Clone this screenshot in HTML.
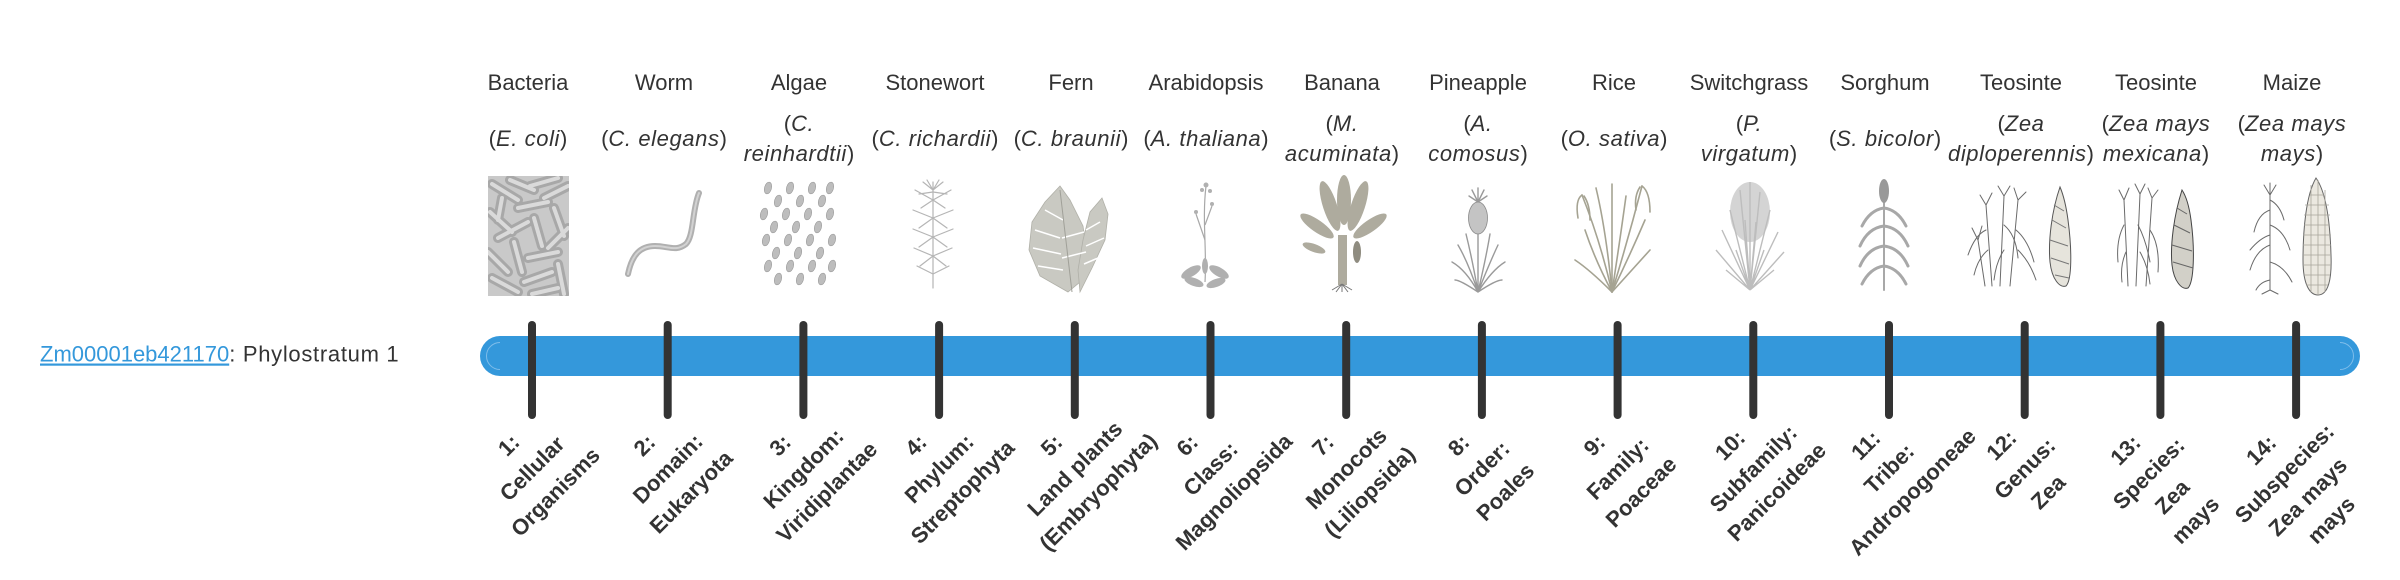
<!DOCTYPE html>
<html><head><meta charset="utf-8">
<style>
html,body{margin:0;padding:0;background:#fff;}
body{width:2400px;height:580px;overflow:hidden;}
svg{display:block;}
.h{font-family:"Liberation Sans",sans-serif;font-size:22px;fill:#333;text-anchor:middle;}
.s{font-family:"Liberation Sans",sans-serif;font-size:22px;fill:#333;text-anchor:middle;}
.i{font-style:italic;letter-spacing:0.6px;}
.l{font-family:"Liberation Sans",sans-serif;font-size:22px;font-weight:bold;fill:#333;text-anchor:middle;}
</style></head>
<body>
<svg width="2400" height="580" viewBox="0 0 2400 580" xmlns="http://www.w3.org/2000/svg">
<rect width="2400" height="580" fill="#fff"/>

<!-- left label -->
<text x="40" y="361.5" font-family="Liberation Sans, sans-serif" font-size="22" fill="#333"><tspan fill="#3498db" text-decoration="underline" style="text-decoration:underline">Zm00001eb421170</tspan><tspan letter-spacing="0.7">: Phylostratum 1</tspan></text>

<!-- common names -->
<g class="h">
<text x="528" y="90">Bacteria</text>
<text x="664" y="90">Worm</text>
<text x="799" y="90">Algae</text>
<text x="935" y="90">Stonewort</text>
<text x="1071" y="90">Fern</text>
<text x="1206" y="90">Arabidopsis</text>
<text x="1342" y="90">Banana</text>
<text x="1478" y="90">Pineapple</text>
<text x="1614" y="90">Rice</text>
<text x="1749" y="90">Switchgrass</text>
<text x="1885" y="90">Sorghum</text>
<text x="2021" y="90">Teosinte</text>
<text x="2156" y="90">Teosinte</text>
<text x="2292" y="90">Maize</text>
</g>

<!-- scientific names -->
<g class="s">
<text x="528" y="146">(<tspan class="i">E. coli</tspan>)</text>
<text x="664" y="146">(<tspan class="i">C. elegans</tspan>)</text>
<text x="799" y="131">(<tspan class="i">C.</tspan></text>
<text x="799" y="161"><tspan class="i">reinhardtii</tspan>)</text>
<text x="935" y="146">(<tspan class="i">C. richardii</tspan>)</text>
<text x="1071" y="146">(<tspan class="i">C. braunii</tspan>)</text>
<text x="1206" y="146">(<tspan class="i">A. thaliana</tspan>)</text>
<text x="1342" y="131">(<tspan class="i">M.</tspan></text>
<text x="1342" y="161"><tspan class="i">acuminata</tspan>)</text>
<text x="1478" y="131">(<tspan class="i">A.</tspan></text>
<text x="1478" y="161"><tspan class="i">comosus</tspan>)</text>
<text x="1614" y="146">(<tspan class="i">O. sativa</tspan>)</text>
<text x="1749" y="131">(<tspan class="i">P.</tspan></text>
<text x="1749" y="161"><tspan class="i">virgatum</tspan>)</text>
<text x="1885" y="146">(<tspan class="i">S. bicolor</tspan>)</text>
<text x="2021" y="131">(<tspan class="i">Zea</tspan></text>
<text x="2021" y="161"><tspan class="i">diploperennis</tspan>)</text>
<text x="2156" y="131">(<tspan class="i">Zea mays</tspan></text>
<text x="2156" y="161"><tspan class="i">mexicana</tspan>)</text>
<text x="2292" y="131">(<tspan class="i">Zea mays</tspan></text>
<text x="2292" y="161"><tspan class="i">mays</tspan>)</text>
</g>

<!-- IMAGES -->
<!-- 1 bacteria -->
<defs><clipPath id="cb"><rect x="0" y="0" width="81" height="120"/></clipPath></defs>
<g transform="translate(488,176)" clip-path="url(#cb)" stroke-linecap="round">
<rect width="81" height="120" fill="#c9c9c9"/>
<g stroke="#a8a8a8" stroke-width="10">
<line x1="4" y1="8" x2="30" y2="24"/><line x1="22" y1="4" x2="46" y2="14"/><line x1="42" y1="10" x2="70" y2="2"/>
<line x1="56" y1="22" x2="80" y2="10"/><line x1="2" y1="36" x2="24" y2="56"/><line x1="30" y1="32" x2="60" y2="26"/>
<line x1="66" y1="32" x2="76" y2="60"/><line x1="10" y1="62" x2="40" y2="46"/><line x1="46" y1="42" x2="54" y2="70"/>
<line x1="60" y1="72" x2="80" y2="52"/><line x1="0" y1="76" x2="20" y2="96"/><line x1="26" y1="66" x2="34" y2="96"/>
<line x1="40" y1="82" x2="70" y2="76"/><line x1="4" y1="102" x2="30" y2="116"/><line x1="36" y1="106" x2="64" y2="96"/>
<line x1="70" y1="88" x2="76" y2="118"/><line x1="44" y1="118" x2="70" y2="112"/><line x1="14" y1="22" x2="10" y2="44"/>
</g>
<g stroke="#dadada" stroke-width="4">
<line x1="4" y1="8" x2="30" y2="24"/><line x1="22" y1="4" x2="46" y2="14"/><line x1="42" y1="10" x2="70" y2="2"/>
<line x1="56" y1="22" x2="80" y2="10"/><line x1="2" y1="36" x2="24" y2="56"/><line x1="30" y1="32" x2="60" y2="26"/>
<line x1="66" y1="32" x2="76" y2="60"/><line x1="10" y1="62" x2="40" y2="46"/><line x1="46" y1="42" x2="54" y2="70"/>
<line x1="60" y1="72" x2="80" y2="52"/><line x1="0" y1="76" x2="20" y2="96"/><line x1="26" y1="66" x2="34" y2="96"/>
<line x1="40" y1="82" x2="70" y2="76"/><line x1="4" y1="102" x2="30" y2="116"/><line x1="36" y1="106" x2="64" y2="96"/>
<line x1="70" y1="88" x2="76" y2="118"/><line x1="44" y1="118" x2="70" y2="112"/><line x1="14" y1="22" x2="10" y2="44"/>
</g>
</g>

<!-- 2 worm -->
<path d="M628,274 C632,255 640,246 655,246 C668,246 676,252 686,244 C694,236 692,210 699,193" fill="none" stroke="#b0b0b0" stroke-width="6" stroke-linecap="round"/>
<path d="M628,274 C632,255 640,246 655,246 C668,246 676,252 686,244 C694,236 692,210 699,193" fill="none" stroke="#d2d2d2" stroke-width="2" stroke-linecap="round"/>

<!-- 3 algae -->
<g fill="#bdbdbd" stroke="#9a9a9a" stroke-width="0.6">
<ellipse cx="768" cy="188" rx="3.5" ry="6" transform="rotate(15 768 188)"/><ellipse cx="790" cy="188" rx="3.5" ry="6" transform="rotate(15 790 188)"/><ellipse cx="812" cy="188" rx="3.5" ry="6" transform="rotate(15 812 188)"/><ellipse cx="830" cy="188" rx="3.5" ry="6" transform="rotate(15 830 188)"/>
<ellipse cx="778" cy="201" rx="3.5" ry="6" transform="rotate(15 778 201)"/><ellipse cx="800" cy="201" rx="3.5" ry="6" transform="rotate(15 800 201)"/><ellipse cx="822" cy="201" rx="3.5" ry="6" transform="rotate(15 822 201)"/>
<ellipse cx="764" cy="214" rx="3.5" ry="6" transform="rotate(15 764 214)"/><ellipse cx="786" cy="214" rx="3.5" ry="6" transform="rotate(15 786 214)"/><ellipse cx="808" cy="214" rx="3.5" ry="6" transform="rotate(15 808 214)"/><ellipse cx="830" cy="214" rx="3.5" ry="6" transform="rotate(15 830 214)"/>
<ellipse cx="774" cy="227" rx="3.5" ry="6" transform="rotate(15 774 227)"/><ellipse cx="796" cy="227" rx="3.5" ry="6" transform="rotate(15 796 227)"/><ellipse cx="818" cy="227" rx="3.5" ry="6" transform="rotate(15 818 227)"/>
<ellipse cx="766" cy="240" rx="3.5" ry="6" transform="rotate(15 766 240)"/><ellipse cx="788" cy="240" rx="3.5" ry="6" transform="rotate(15 788 240)"/><ellipse cx="810" cy="240" rx="3.5" ry="6" transform="rotate(15 810 240)"/><ellipse cx="832" cy="240" rx="3.5" ry="6" transform="rotate(15 832 240)"/>
<ellipse cx="776" cy="253" rx="3.5" ry="6" transform="rotate(15 776 253)"/><ellipse cx="798" cy="253" rx="3.5" ry="6" transform="rotate(15 798 253)"/><ellipse cx="820" cy="253" rx="3.5" ry="6" transform="rotate(15 820 253)"/>
<ellipse cx="768" cy="266" rx="3.5" ry="6" transform="rotate(15 768 266)"/><ellipse cx="790" cy="266" rx="3.5" ry="6" transform="rotate(15 790 266)"/><ellipse cx="812" cy="266" rx="3.5" ry="6" transform="rotate(15 812 266)"/><ellipse cx="832" cy="266" rx="3.5" ry="6" transform="rotate(15 832 266)"/>
<ellipse cx="778" cy="279" rx="3.5" ry="6" transform="rotate(15 778 279)"/><ellipse cx="800" cy="279" rx="3.5" ry="6" transform="rotate(15 800 279)"/><ellipse cx="822" cy="279" rx="3.5" ry="6" transform="rotate(15 822 279)"/>
</g>

<!-- 4 stonewort -->
<g stroke="#b5b5b5" stroke-width="1.2" fill="none" stroke-linecap="round">
<line x1="933" y1="288" x2="933" y2="182"/>
<path d="M933,200 l-18,-10 M933,200 l18,-10 M933,200 l-12,8 M933,200 l12,8"/>
<path d="M933,218 l-20,-8 M933,218 l20,-8 M933,218 l-14,10 M933,218 l14,10"/>
<path d="M933,237 l-20,-8 M933,237 l20,-8 M933,237 l-14,10 M933,237 l14,10"/>
<path d="M933,256 l-19,-8 M933,256 l19,-8 M933,256 l-13,10 M933,256 l13,10"/>
<path d="M933,274 l-16,-8 M933,274 l16,-8"/>
<path d="M933,190 l-10,-8 M933,190 l10,-8 M933,190 l-6,-10 M933,190 l6,-10 M933,192 l-14,2 M933,192 l14,2"/>
</g>

<!-- 5 fern -->
<g fill="#c9c9c2" stroke="#b0b0a8" stroke-width="0.8">
<polygon points="1068,292 1040,276 1029,250 1032,222 1045,202 1060,186 1070,200 1083,226 1087,256 1080,282"/>
<polygon points="1080,292 1092,268 1105,240 1108,214 1102,198 1090,212 1083,240 1078,270"/>
</g>
<g stroke="#fff" stroke-width="1.5">
<path d="M1035,230 l25,8 M1033,248 l28,6 M1038,266 l25,4 M1045,210 l18,10 M1084,232 l-22,6 M1086,252 l-24,6 M1100,222 l-14,8 M1104,238 l-18,8 M1098,258 l-14,6"/>
</g>
<line x1="1072" y1="292" x2="1060" y2="190" stroke="#a0a098" stroke-width="1"/>

<!-- 6 arabidopsis -->
<g stroke="#a8a8a8" stroke-width="1.2" fill="none">
<path d="M1205,282 C1207,250 1202,220 1206,186"/>
<path d="M1205,240 L1196,214"/><path d="M1205,225 L1212,206"/>
</g>
<g fill="#b0b0b0">
<circle cx="1206" cy="185" r="2.5"/><circle cx="1202" cy="190" r="2"/><circle cx="1210" cy="191" r="2"/><circle cx="1196" cy="212" r="2"/><circle cx="1212" cy="204" r="2"/>
<ellipse cx="1191" cy="272" rx="11" ry="4.5" transform="rotate(-30 1191 272)"/>
<ellipse cx="1219" cy="272" rx="11" ry="4.5" transform="rotate(30 1219 272)"/>
<ellipse cx="1194" cy="282" rx="10" ry="4" transform="rotate(20 1194 282)"/>
<ellipse cx="1216" cy="283" rx="10" ry="4" transform="rotate(-20 1216 283)"/>
<ellipse cx="1205" cy="266" rx="3" ry="8"/>
</g>

<!-- 7 banana -->
<g fill="#aeab9e">
<rect x="1338" y="235" width="9" height="50"/>
<ellipse cx="1330" cy="206" rx="7" ry="26" transform="rotate(-18 1330 206)"/>
<ellipse cx="1344" cy="200" rx="7" ry="25"/>
<ellipse cx="1358" cy="206" rx="7" ry="26" transform="rotate(18 1358 206)"/>
<ellipse cx="1317" cy="226" rx="6" ry="20" transform="rotate(-55 1317 226)"/>
<ellipse cx="1370" cy="226" rx="6" ry="20" transform="rotate(55 1370 226)"/>
<ellipse cx="1314" cy="248" rx="4" ry="12" transform="rotate(-70 1314 248)"/>
<ellipse cx="1357" cy="252" rx="4" ry="11" fill="#8f8c80"/>
</g>
<path d="M1342,284 l-10,6 M1342,284 l10,6 M1342,284 l0,8 M1342,284 l-6,8 M1342,284 l6,8" stroke="#777" stroke-width="1"/>

<!-- 8 pineapple -->
<g stroke="#9a9a9a" stroke-width="1.4" fill="none" stroke-linecap="round">
<path d="M1478,292 Q1466,270 1452,262 M1478,292 Q1468,262 1458,245 M1478,292 Q1472,258 1466,234 M1478,292 Q1486,258 1490,234 M1478,292 Q1490,262 1498,245 M1478,292 Q1492,270 1505,262 M1478,292 L1478,234 M1478,292 Q1460,280 1455,280 M1478,292 Q1496,280 1502,280"/>
<path d="M1478,202 l0,-14 M1478,202 l-6,-12 M1478,202 l6,-12 M1478,202 l-9,-6 M1478,202 l9,-6"/>
</g>
<ellipse cx="1478" cy="218" rx="9.5" ry="16" fill="#c4c4c4" stroke="#888" stroke-width="0.8"/>

<!-- 9 rice -->
<g stroke="#a5a392" stroke-width="1.6" fill="none" stroke-linecap="round">
<path d="M1612,292 Q1600,240 1582,195"/><path d="M1612,292 Q1606,230 1596,188"/><path d="M1612,292 Q1612,230 1612,184"/>
<path d="M1612,292 Q1620,240 1626,196"/><path d="M1612,292 Q1628,240 1642,186"/><path d="M1612,292 Q1632,270 1650,250"/>
<path d="M1612,292 Q1590,270 1575,260"/><path d="M1612,292 Q1595,260 1585,230"/><path d="M1612,292 Q1630,255 1645,220"/>
<path d="M1582,195 Q1575,200 1578,218 M1584,196 Q1590,205 1590,220 M1642,186 Q1650,192 1650,212 M1640,187 Q1634,196 1636,210"/>
</g>

<!-- 10 switchgrass -->
<ellipse cx="1750" cy="212" rx="20" ry="30" fill="#d4d4d4"/>
<g stroke="#bdbdbd" stroke-width="1.4" fill="none">
<path d="M1750,290 L1716,250 M1750,290 L1722,230 M1750,290 L1730,210 M1750,290 L1740,190 M1750,290 L1750,182 M1750,290 L1760,192 M1750,290 L1770,210 M1750,290 L1778,232 M1750,290 L1784,252 M1750,290 L1726,270 M1750,290 L1774,270 M1750,290 L1745,220 M1750,290 L1756,222 M1750,290 L1736,250 M1750,290 L1764,250"/>
</g>

<!-- 11 sorghum -->
<g stroke="#a8a8a8" stroke-width="3" fill="none" stroke-linecap="round">
<line x1="1884" y1="290" x2="1884" y2="196" stroke-width="2"/>
<path d="M1884,208 Q1870,210 1862,226 M1884,208 Q1898,210 1906,226"/>
<path d="M1884,226 Q1868,228 1860,246 M1884,226 Q1900,228 1908,246"/>
<path d="M1884,246 Q1868,248 1860,266 M1884,246 Q1900,248 1908,266"/>
<path d="M1884,266 Q1870,268 1862,284 M1884,266 Q1898,268 1906,284"/>
</g>
<ellipse cx="1884" cy="191" rx="5" ry="12" fill="#999"/>

<!-- 12 teosinte -->
<g stroke="#6a6a6a" stroke-width="1" fill="none" stroke-linecap="round">
<path d="M1992,286 L1986,205 M2000,286 L2004,196 M2010,286 L2018,200 M1985,286 L1978,240"/>
<path d="M1986,230 Q1975,235 1968,255 M1988,250 Q1978,258 1974,275 M2004,225 Q2016,235 2018,258 M2016,230 Q2028,240 2034,262 M2004,250 Q1996,262 1994,280 M2018,250 Q2030,262 2036,280"/>
<path d="M1986,205 l-6,-10 M1986,205 l6,-12 M2004,196 l-6,-10 M2004,196 l6,-10 M2018,200 l-4,-12 M2018,200 l8,-8 M1978,240 l-6,-12 M1978,240 l4,-14"/>
</g>
<path d="M2060,187 C2052,210 2048,240 2050,262 C2052,280 2060,288 2066,286 C2072,280 2072,250 2068,220 C2066,205 2063,194 2060,187 Z" fill="#e6e4dc" stroke="#555" stroke-width="1"/>
<path d="M2052,220 l14,8 M2050,240 l18,6 M2051,258 l18,6 M2054,205 l10,6 M2055,275 l14,3" stroke="#777" stroke-width="1"/>

<!-- 13 teosinte -->
<g stroke="#6a6a6a" stroke-width="1" fill="none" stroke-linecap="round">
<path d="M2128,286 L2124,200 M2136,286 L2140,194 M2146,286 L2152,198"/>
<path d="M2124,225 Q2116,240 2118,262 M2138,225 Q2146,240 2150,262 M2150,230 Q2160,245 2158,272 M2126,252 Q2120,265 2122,282 M2140,252 Q2148,266 2150,284"/>
<path d="M2124,200 l-5,-10 M2124,200 l5,-12 M2140,194 l-5,-10 M2140,194 l5,-10 M2152,198 l-4,-10 M2152,198 l6,-8"/>
</g>
<path d="M2182,190 C2174,215 2170,245 2172,265 C2174,282 2182,290 2188,288 C2194,282 2195,250 2191,220 C2189,205 2186,196 2182,190 Z" fill="#d2d0c8" stroke="#444" stroke-width="1"/>
<path d="M2174,225 l16,8 M2172,245 l20,6 M2173,262 l20,6 M2177,208 l10,6" stroke="#666" stroke-width="1"/>

<!-- 14 maize -->
<g stroke="#6a6a6a" stroke-width="1" fill="none" stroke-linecap="round">
<path d="M2270,290 L2270,195"/>
<path d="M2270,210 Q2258,214 2254,232 M2270,225 Q2284,230 2290,250 M2270,245 Q2256,250 2250,270 M2270,262 Q2284,266 2292,282 M2270,280 Q2260,282 2256,290 M2270,235 Q2260,238 2250,250 M2270,200 Q2280,205 2284,220"/>
<path d="M2270,195 l-6,-10 M2270,195 l6,-10 M2270,195 l0,-12 M2270,290 l-8,4 M2270,290 l8,4"/>
</g>
<path d="M2316,178 C2306,195 2303,230 2303,260 C2303,285 2310,295 2318,295 C2328,295 2332,280 2331,255 C2330,220 2326,192 2316,178 Z" fill="#ebe8e0" stroke="#666" stroke-width="1"/>
<g stroke="#a8a59c" stroke-width="0.8">
<path d="M2305,205 H2329 M2304,215 H2330 M2304,225 H2330 M2303,235 H2331 M2303,245 H2331 M2303,255 H2331 M2303,265 H2331 M2304,275 H2330 M2306,285 H2328 M2310,195 H2324"/>
<path d="M2311,185 V292 M2318,180 V295 M2325,190 V292"/>
</g>

<!-- BAR -->
<rect x="480" y="336" width="1880" height="40" rx="20" ry="20" fill="#3498db"/>
<path d="M500,342.5 A13.5,13.5 0 0 0 500,369.5" fill="none" stroke="#7fbdea" stroke-width="1"/>
<path d="M2340,342.5 A13.5,13.5 0 0 1 2340,369.5" fill="none" stroke="#7fbdea" stroke-width="1"/>

<!-- TICKS -->
<g fill="#333">
<rect x="528" y="321" width="8" height="98" rx="4"/>
<rect x="663.7" y="321" width="8" height="98" rx="4"/>
<rect x="799.4" y="321" width="8" height="98" rx="4"/>
<rect x="935.1" y="321" width="8" height="98" rx="4"/>
<rect x="1070.8" y="321" width="8" height="98" rx="4"/>
<rect x="1206.5" y="321" width="8" height="98" rx="4"/>
<rect x="1342.2" y="321" width="8" height="98" rx="4"/>
<rect x="1477.9" y="321" width="8" height="98" rx="4"/>
<rect x="1613.6" y="321" width="8" height="98" rx="4"/>
<rect x="1749.3" y="321" width="8" height="98" rx="4"/>
<rect x="1885" y="321" width="8" height="98" rx="4"/>
<rect x="2020.7" y="321" width="8" height="98" rx="4"/>
<rect x="2156.4" y="321" width="8" height="98" rx="4"/>
<rect x="2292.1" y="321" width="8" height="98" rx="4"/>
</g>

<!-- ROTATED LABELS -->
<g class="l">
<g transform="rotate(-45 532 468.5)"><text><tspan x="532" y="443.1">1:</tspan><tspan x="532" y="476.1">Cellular</tspan><tspan x="532" y="509.1">Organisms</tspan></text></g>
<g transform="rotate(-45 667.7 468.5)"><text><tspan x="667.7" y="443.1">2:</tspan><tspan x="667.7" y="476.1">Domain:</tspan><tspan x="667.7" y="509.1">Eukaryota</tspan></text></g>
<g transform="rotate(-45 803.4 468.5)"><text><tspan x="803.4" y="443.1">3:</tspan><tspan x="803.4" y="476.1">Kingdom:</tspan><tspan x="803.4" y="509.1">Viridiplantae</tspan></text></g>
<g transform="rotate(-45 939.1 468.5)"><text><tspan x="939.1" y="443.1">4:</tspan><tspan x="939.1" y="476.1">Phylum:</tspan><tspan x="939.1" y="509.1">Streptophyta</tspan></text></g>
<g transform="rotate(-45 1074.8 468.5)"><text><tspan x="1074.8" y="443.1">5:</tspan><tspan x="1074.8" y="476.1">Land plants</tspan><tspan x="1074.8" y="509.1">(Embryophyta)</tspan></text></g>
<g transform="rotate(-45 1210.5 468.5)"><text><tspan x="1210.5" y="443.1">6:</tspan><tspan x="1210.5" y="476.1">Class:</tspan><tspan x="1210.5" y="509.1">Magnoliopsida</tspan></text></g>
<g transform="rotate(-45 1346.2 468.5)"><text><tspan x="1346.2" y="443.1">7:</tspan><tspan x="1346.2" y="476.1">Monocots</tspan><tspan x="1346.2" y="509.1">(Liliopsida)</tspan></text></g>
<g transform="rotate(-45 1481.9 468.5)"><text><tspan x="1481.9" y="443.1">8:</tspan><tspan x="1481.9" y="476.1">Order:</tspan><tspan x="1481.9" y="509.1">Poales</tspan></text></g>
<g transform="rotate(-45 1617.6 468.5)"><text><tspan x="1617.6" y="443.1">9:</tspan><tspan x="1617.6" y="476.1">Family:</tspan><tspan x="1617.6" y="509.1">Poaceae</tspan></text></g>
<g transform="rotate(-45 1753.3 468.5)"><text><tspan x="1753.3" y="443.1">10:</tspan><tspan x="1753.3" y="476.1">Subfamily:</tspan><tspan x="1753.3" y="509.1">Panicoideae</tspan></text></g>
<g transform="rotate(-45 1889 468.5)"><text><tspan x="1889" y="443.1">11:</tspan><tspan x="1889" y="476.1">Tribe:</tspan><tspan x="1889" y="509.1">Andropogoneae</tspan></text></g>
<g transform="rotate(-45 2024.7 468.5)"><text><tspan x="2024.7" y="443.1">12:</tspan><tspan x="2024.7" y="476.1">Genus:</tspan><tspan x="2024.7" y="509.1">Zea</tspan></text></g>
<g transform="rotate(-45 2160.4 485)"><text><tspan x="2160.4" y="443.1">13:</tspan><tspan x="2160.4" y="476.1">Species:</tspan><tspan x="2160.4" y="509.1">Zea</tspan><tspan x="2160.4" y="542.1">mays</tspan></text></g>
<g transform="rotate(-45 2296.1 485)"><text><tspan x="2296.1" y="443.1">14:</tspan><tspan x="2296.1" y="476.1">Subspecies:</tspan><tspan x="2296.1" y="509.1">Zea mays</tspan><tspan x="2296.1" y="542.1">mays</tspan></text></g>
</g>
</svg>
</body></html>
